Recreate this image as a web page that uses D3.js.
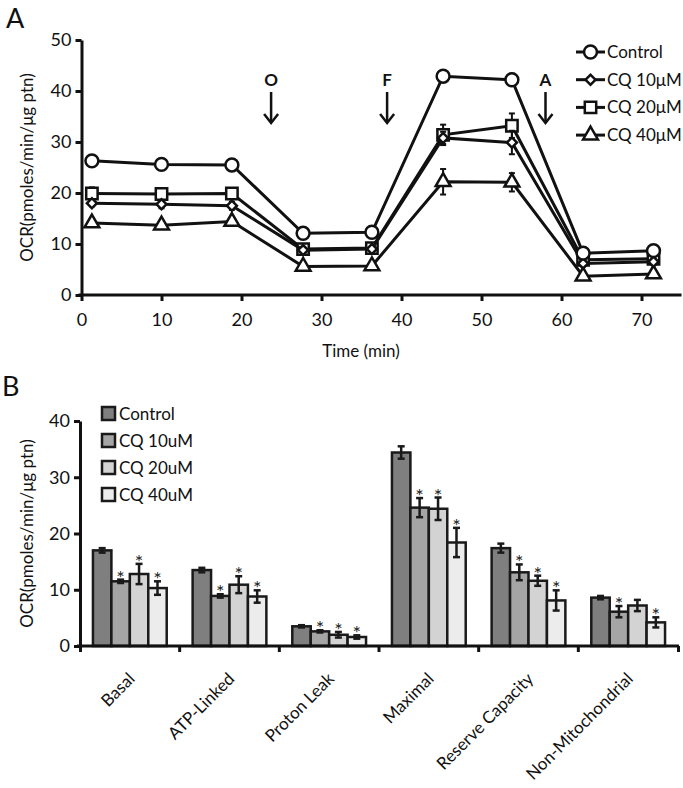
<!DOCTYPE html>
<html>
<head>
<meta charset="utf-8">
<script src="https://cdn.jsdelivr.net/npm/d3@7"></script>
<style>
  body { margin: 0; background: #fff; }
  svg text { font-family: Lato, "Open Sans", sans-serif; fill: #111; }
</style>
</head>
<body>
<svg id="chart" width="683" height="788"></svg>
<script>
// ---- panel A data ----
const times = [1.3, 10, 18.8, 27.7, 36.3, 45.2, 53.8, 62.7, 71.5]
const seriesNames = ['Control', 'CQ 10\u03bcM', 'CQ 20\u03bcM', 'CQ 40\u03bcM']
const controlOCR = [26.3, 25.6, 25.5, 12.1, 12.3, 42.9, 42.2, 8.2, 8.7]
const cq10OCR = [18.0, 17.8, 17.5, 8.8, 9.0, 30.8, 29.9, 6.2, 6.5]
const cq20OCR = [19.9, 19.8, 19.9, 9.0, 9.2, 31.4, 33.2, 6.9, 7.1]
const cq40OCR = [14.1, 13.7, 14.4, 5.6, 5.7, 22.2, 22.1, 3.7, 4.1]
const controlErr = [0.5, 0.4, 0.4, 0.3, 0.3, 0.8, 1.2, 0.3, 0.3]
const cq10Err = [0.6, 0.8, 0.8, 0.3, 0.3, 1.2, 2.3, 0.3, 0.3]
const cq20Err = [1.2, 1.0, 1.0, 0.4, 0.4, 2.0, 2.4, 0.4, 0.4]
const cq40Err = [0.5, 0.5, 0.5, 0.3, 0.3, 2.5, 1.8, 0.3, 0.3]
const injections = [{label: 'O', t: 23.7}, {label: 'F', t: 38.2}, {label: 'A', t: 58}]

// ---- panel B data ----
const categories = ['Basal', 'ATP-Linked', 'Proton Leak', 'Maximal', 'Reserve Capacity', 'Non-Mitochondrial']
const groupNames = ['Control', 'CQ 10uM', 'CQ 20uM', 'CQ 40uM']
const controlBar = [17.0, 13.5, 3.5, 34.4, 17.4, 8.6]
const cq10Bar = [11.5, 8.9, 2.6, 24.6, 13.1, 6.1]
const cq20Bar = [12.8, 10.9, 2.0, 24.4, 11.6, 7.2]
const cq40Bar = [10.3, 8.8, 1.6, 18.4, 8.1, 4.2]
const controlBarErr = [0.4, 0.4, 0.2, 1.1, 0.8, 0.3]
const cq10BarErr = [0.3, 0.3, 0.2, 1.7, 1.4, 1.0]
const cq20BarErr = [1.8, 1.5, 0.5, 2.0, 0.9, 1.0]
const cq40BarErr = [1.2, 1.1, 0.3, 2.6, 1.8, 0.9]
const starred = [[0, 1, 1, 1], [0, 1, 1, 1], [0, 1, 1, 1], [0, 1, 1, 1], [0, 1, 1, 1], [0, 1, 0, 1]]
const barColors = ['#7f7f7f', '#a5a5a5', '#d3d3d3', '#ececec']

const svg = d3.select('#chart')

// ================= Panel A =================
const xA = d3.scaleLinear().domain([0, 75]).range([81.5, 681.5])
const yA = d3.scaleLinear().domain([0, 50]).range([295, 40])

const gA = svg.append('g')

gA.append('text').attr('x', 6).attr('y', 28).attr('font-size', 27).text('A')

const axA_y = gA.append('g').attr('transform', `translate(${xA(0)},0)`)
  .call(d3.axisLeft(yA).tickValues([0, 10, 20, 30, 40, 50]).tickSize(6).tickSizeOuter(0))
const axA_x = gA.append('g').attr('transform', `translate(0,${yA(0)})`)
  .call(d3.axisBottom(xA).tickValues([0, 10, 20, 30, 40, 50, 60, 70]).tickSize(6).tickSizeOuter(0))
;[axA_y, axA_x].forEach(a => {
  a.select('.domain').attr('stroke', '#111').attr('stroke-width', 3)
  a.selectAll('.tick line').attr('stroke', '#111').attr('stroke-width', 3)
  a.selectAll('.tick text').attr('font-size', 18).attr('font-family', 'Lato, sans-serif')
})
axA_y.selectAll('.tick text').attr('x', -10)
axA_x.selectAll('.tick text').attr('y', 18)
axA_x.select('.domain').attr('d', `M${xA(0) - 3},0H${xA(75)}`)

gA.append('text').attr('x', 361).attr('y', 357).attr('text-anchor', 'middle')
  .attr('font-size', 17).text('Time (min)')
gA.append('text').attr('transform', `translate(33,${(yA(0) + yA(50)) / 2}) rotate(-90)`)
  .attr('text-anchor', 'middle').attr('font-size', 17).text('OCR(pmoles/min/\u03bcg ptn)')

// injection arrows
injections.forEach(d => {
  const x = xA(d.t)
  gA.append('text').attr('x', x).attr('y', 86).attr('text-anchor', 'middle')
    .attr('font-size', 17).attr('font-weight', 'bold').text(d.label)
  gA.append('line').attr('x1', x).attr('x2', x).attr('y1', 92).attr('y2', 122)
    .attr('stroke', '#111').attr('stroke-width', 2.5)
  gA.append('path').attr('d', `M${x - 7},${114}L${x},${123}L${x + 7},${114}`)
    .attr('fill', 'none').attr('stroke', '#111').attr('stroke-width', 2.5)
})

const seriesA = [
  {name: seriesNames[0], vals: controlOCR, err: controlErr, sym: d3.symbolCircle, size: 130, rot: 0},
  {name: seriesNames[1], vals: cq10OCR, err: cq10Err, sym: d3.symbolSquare, size: 50, rot: 45},
  {name: seriesNames[2], vals: cq20OCR, err: cq20Err, sym: d3.symbolSquare, size: 130, rot: 0},
  {name: seriesNames[3], vals: cq40OCR, err: cq40Err, sym: d3.symbolTriangle, size: 95, rot: 0}
]

const line = d3.line().x((d, i) => xA(times[i])).y(d => yA(d))

// draw in reverse so control sits on top
seriesA.slice().reverse().forEach(s => {
  const g = gA.append('g')
  s.vals.forEach((v, i) => {
    const x = xA(times[i])
    g.append('line').attr('x1', x).attr('x2', x).attr('y1', yA(v - s.err[i])).attr('y2', yA(v + s.err[i]))
      .attr('stroke', '#111').attr('stroke-width', 2)
    ;[v - s.err[i], v + s.err[i]].forEach(e => {
      g.append('line').attr('x1', x - 3).attr('x2', x + 3).attr('y1', yA(e)).attr('y2', yA(e))
        .attr('stroke', '#111').attr('stroke-width', 2)
    })
  })
  g.append('path').datum(s.vals).attr('d', line).attr('fill', 'none')
    .attr('stroke', '#111').attr('stroke-width', 3)
  g.selectAll('.m').data(s.vals).join('path')
    .attr('transform', (d, i) => `translate(${xA(times[i])},${yA(d)}) rotate(${s.rot})`)
    .attr('d', d3.symbol().type(s.sym).size(s.size))
    .attr('fill', '#fff').attr('stroke', '#111').attr('stroke-width', 2.5)
})

// legend A
const legA = gA.append('g')
seriesA.forEach((s, i) => {
  const y = 52 + i * 27.7
  legA.append('line').attr('x1', 576).attr('x2', 605).attr('y1', y).attr('y2', y)
    .attr('stroke', '#111').attr('stroke-width', 3)
  legA.append('path').attr('transform', `translate(590.5,${y}) rotate(${s.rot})`)
    .attr('d', d3.symbol().type(s.sym).size(s.size))
    .attr('fill', '#fff').attr('stroke', '#111').attr('stroke-width', 2.5)
  legA.append('text').attr('x', 607).attr('y', y + 6).attr('font-size', 17).text(s.name)
})

// ================= Panel B =================
const xB = d3.scaleBand().domain(categories).range([80, 678]).paddingInner(0.26).paddingOuter(0.13)
const xSub = d3.scaleBand().domain(groupNames).range([0, xB.bandwidth()])
const yB = d3.scaleLinear().domain([0, 40]).range([646, 421])

const gB = svg.append('g')
gB.append('text').attr('x', 2).attr('y', 396).attr('font-size', 27).text('B')

const barVals = [controlBar, cq10Bar, cq20Bar, cq40Bar]
const barErrs = [controlBarErr, cq10BarErr, cq20BarErr, cq40BarErr]
const starG = gB.append('g').attr('opacity', 0.99)

categories.forEach((c, ci) => {
  groupNames.forEach((gname, gi) => {
    const v = barVals[gi][ci], e = barErrs[gi][ci]
    const x0 = xB(c) + xSub(gname)
    const w = xSub.bandwidth()
    gB.append('rect').attr('x', x0).attr('y', yB(v)).attr('width', w).attr('height', yB(0) - yB(v))
      .attr('fill', barColors[gi]).attr('stroke', '#1a1a1a').attr('stroke-width', 2.5)
    const cx = x0 + w / 2
    gB.append('line').attr('x1', cx).attr('x2', cx).attr('y1', yB(v - e)).attr('y2', yB(v + e))
      .attr('stroke', '#1a1a1a').attr('stroke-width', 2.5)
    ;[v - e, v + e].forEach(ev => {
      gB.append('line').attr('x1', cx - 3.5).attr('x2', cx + 3.5).attr('y1', yB(ev)).attr('y2', yB(ev))
        .attr('stroke', '#1a1a1a').attr('stroke-width', 2.5)
    })
    if (starred[ci][gi]) {
      starG.append('text').attr('x', cx).attr('y', yB(v + e) + 5).attr('text-anchor', 'middle')
        .attr('font-family', 'DejaVu Sans, sans-serif').attr('font-size', 20)
        .style('fill', '#222').text('*')
    }
  })
})

const axB_y = gB.append('g').attr('transform', 'translate(80,0)')
  .call(d3.axisLeft(yB).tickValues([0, 10, 20, 30, 40]).tickSize(6).tickSizeOuter(0))
const axB_x = gB.append('g').attr('transform', `translate(0,${yB(0)})`)
  .call(d3.axisBottom(xB).tickSize(0).tickFormat(''))
;[axB_y, axB_x].forEach(a => {
  a.select('.domain').attr('stroke', '#111').attr('stroke-width', 3)
  a.selectAll('.tick line').attr('stroke', '#111').attr('stroke-width', 3)
  a.selectAll('.tick text').attr('font-size', 18).attr('font-family', 'Lato, sans-serif')
})
axB_y.selectAll('.tick text').attr('x', -10)
axB_x.select('.domain').attr('d', 'M77,0H679')
// category boundary ticks
const bounds = categories.map(c => xB(c) - xB.step() * xB.paddingInner() / 2)
bounds.push(678.5)
bounds[0] = 80.5
axB_x.selectAll('.bt').data(bounds).join('line')
  .attr('x1', d => d).attr('x2', d => d).attr('y1', 0).attr('y2', 6)
  .attr('stroke', '#111').attr('stroke-width', 3)

// category labels
categories.forEach(c => {
  const cx = xB(c) + xB.bandwidth() / 2 + 6
  gB.append('text').attr('transform', `translate(${cx},${680}) rotate(-45)`)
    .attr('text-anchor', 'end').attr('font-size', 17).text(c)
})

gB.append('text').attr('transform', `translate(33,${(yB(0) + yB(40)) / 2}) rotate(-90)`)
  .attr('text-anchor', 'middle').attr('font-size', 17).text('OCR(pmoles/min/\u03bcg ptn)')

// legend B
groupNames.forEach((n, i) => {
  const y = 414 + i * 27
  gB.append('rect').attr('x', 102).attr('y', y - 7).attr('width', 13).attr('height', 13)
    .attr('fill', barColors[i]).attr('stroke', '#1a1a1a').attr('stroke-width', 2.5)
  gB.append('text').attr('x', 119).attr('y', y + 6).attr('font-size', 17).text(n)
})
</script>
</body>
</html>
